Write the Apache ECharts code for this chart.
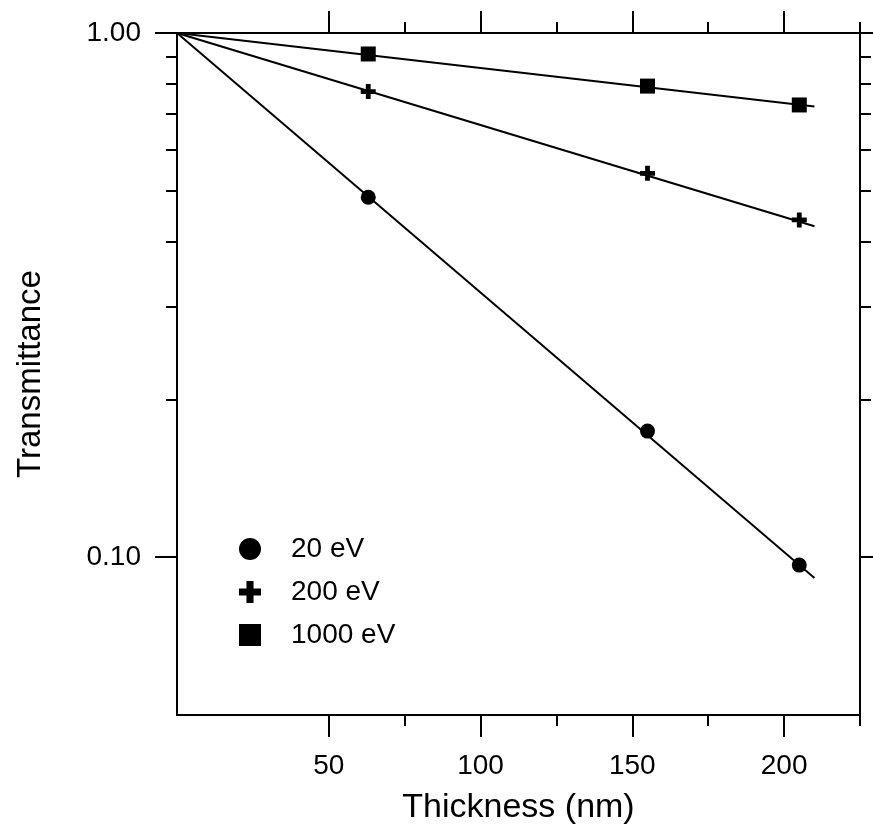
<!DOCTYPE html>
<html>
<head>
<meta charset="utf-8">
<script src="https://cdn.jsdelivr.net/npm/echarts@6/dist/echarts.min.js"></script>
<style>
html,body{margin:0;padding:0;background:#fff;}
#chart{width:873px;height:832px;}
</style>
</head>
<body>
<div id="chart"></div>
<script>
// ---- data ----
const seriesNames = ['20 eV', '200 eV', '1000 eV'];
const thickness = [63, 155, 205];
const trans20 = [0.486, 0.174, 0.0966];
const trans200 = [0.773, 0.540, 0.440];
const trans1000 = [0.912, 0.792, 0.729];
const fitThickness = [0, 210];
const fit20 = [1, 0.0913];
const fit200 = [1, 0.428];
const fit1000 = [1, 0.724];
const xMajorTicks = [50, 100, 150, 200];
const xMinorTicks = [75, 125, 175, 225];
const yMajorTicks = [0.1, 1];
const yMinorTicks = [0.2, 0.3, 0.4, 0.5, 0.6, 0.7, 0.8, 0.9];

const FONT = 'Liberation Sans, Arial, sans-serif';
const BLACK = '#000';
const plusPath = 'path://M34,0H66V34H100V66H66V100H34V66H0V34H34Z';

function pairs(xs, ys) { return xs.map((x, i) => [x, ys[i]]); }

const lineCommon = {color: BLACK, width: 2};

function xAx(position, ticks, len, withLabel) {
  const ax = {
    type: 'value', min: 0, max: 225, position: position,
    axisLine: {show: true, onZero: false, lineStyle: lineCommon},
    axisTick: {show: true, customValues: ticks, length: len, inside: false, lineStyle: lineCommon},
    axisLabel: {show: withLabel, customValues: ticks, fontSize: 28, color: BLACK, fontFamily: FONT, margin: 37},
    splitLine: {show: false}, minorTick: {show: false}
  };
  if (withLabel) {
    ax.name = 'Thickness (nm)';
    ax.nameLocation = 'middle';
    ax.nameGap = 76;
    ax.nameTextStyle = {fontSize: 34, color: BLACK, fontFamily: FONT};
  }
  return ax;
}
function yAx(position, ticks, len, withLabel) {
  const ax = {
    type: 'log', logBase: 10, min: 0.05, max: 1, position: position,
    axisLine: {show: true, onZero: false, lineStyle: lineCommon},
    axisTick: {show: true, customValues: ticks, length: len, inside: false, lineStyle: lineCommon},
    axisLabel: {show: withLabel, customValues: ticks, fontSize: 28, color: BLACK, fontFamily: FONT, margin: 36,
      formatter: v => Number(v).toFixed(2)},
    splitLine: {show: false}, minorTick: {show: false}
  };
  if (withLabel) {
    ax.name = 'Transmittance';
    ax.nameLocation = 'middle';
    ax.nameGap = 130;
    ax.nameTextStyle = {fontSize: 33, color: BLACK, fontFamily: FONT};
  }
  return ax;
}

const markerSymbols = ['circle', plusPath, 'rect'];
const markerData = [trans20, trans200, trans1000];
const fitData = [fit20, fit200, fit1000];

const series = [];
seriesNames.forEach((name, i) => {
  series.push({
    name: name + ' fit', type: 'line', xAxisIndex: 0, yAxisIndex: 0,
    data: pairs(fitThickness, fitData[i]), showSymbol: false, symbol: 'none',
    lineStyle: {color: BLACK, width: 2}, silent: true, z: 2, animation: false
  });
});
seriesNames.forEach((name, i) => {
  series.push({
    name: name, type: 'scatter', xAxisIndex: 0, yAxisIndex: 0,
    data: pairs(thickness, markerData[i]), symbol: markerSymbols[i], symbolSize: 15,
    itemStyle: {color: BLACK, opacity: 1}, z: 5, animation: false
  });
});

const chart = echarts.init(document.getElementById('chart'), null, {renderer: 'canvas'});
chart.setOption({
  backgroundColor: '#fff',
  animation: false,
  textStyle: {fontFamily: FONT},
  grid: {left: 177, right: 13, top: 33, bottom: 117, containLabel: false, outerBoundsMode: 'none'},
  legend: {
    data: seriesNames.map((n, i) => ({name: n, icon: markerSymbols[i]})),
    orient: 'vertical', left: 239, top: 535, padding: 0,
    itemWidth: 22, itemHeight: 22, itemGap: 15,
    textStyle: {fontSize: 28, color: BLACK, fontFamily: FONT, padding: [0, 0, 0, 25]},
    itemStyle: {color: BLACK, opacity: 1}, selectedMode: false
  },
  xAxis: [
    xAx('bottom', xMajorTicks, 22, true),
    xAx('bottom', xMinorTicks, 11, false),
    xAx('top', xMajorTicks, 22, false),
    xAx('top', xMinorTicks, 11, false)
  ],
  yAxis: [
    yAx('left', yMajorTicks, 22, true),
    yAx('left', yMinorTicks, 11, false),
    yAx('right', yMajorTicks, 22, false),
    yAx('right', yMinorTicks, 11, false)
  ],
  series: series
});
</script>
</body>
</html>
